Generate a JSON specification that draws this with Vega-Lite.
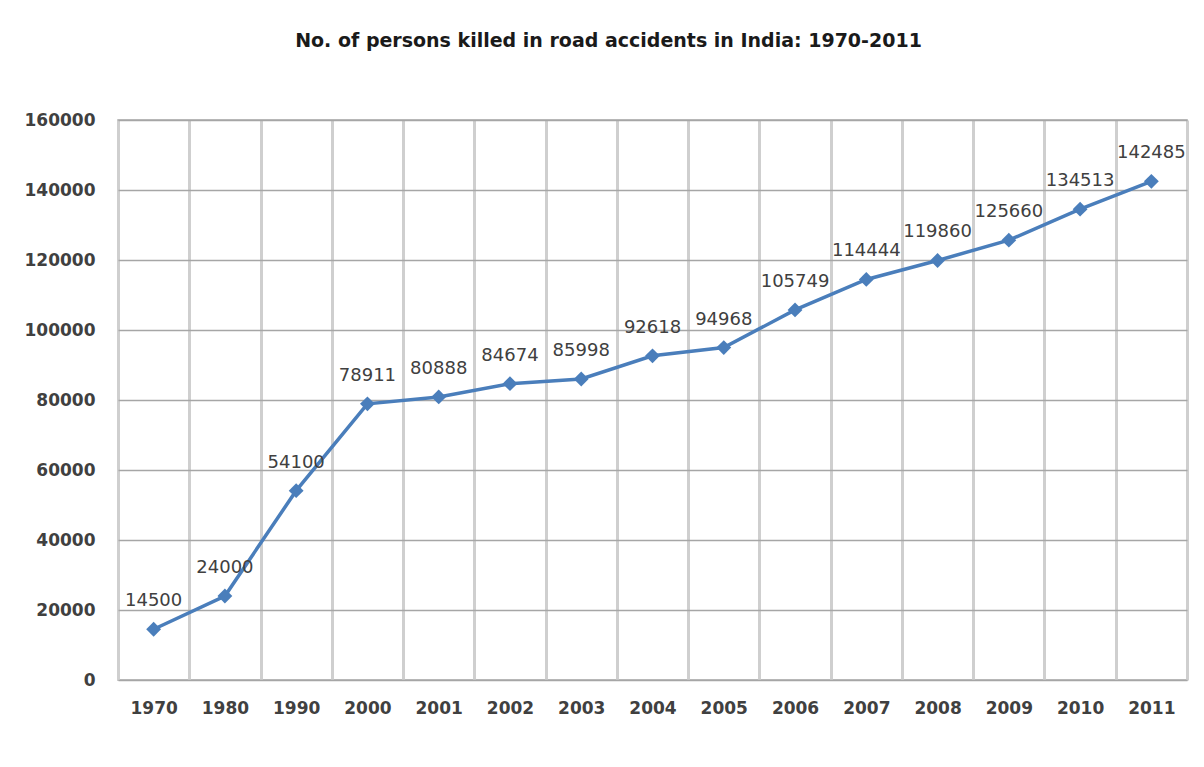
{
  "$schema": "https://vega.github.io/schema/vega-lite/v6.json",
  "width": 1069,
  "height": 560,
  "autosize": {"type": "none"},
  "padding": {"left": 118, "top": 120, "right": 17, "bottom": 87},
  "background": "white",
  "title": {
    "text": "No. of persons killed in road accidents in India: 1970-2011",
    "font": "DejaVu Sans",
    "fontSize": 19,
    "fontWeight": "bold",
    "color": "#1a1a1a",
    "anchor": "middle",
    "offset": 60,
    "dx": -44
  },
  "config": {
    "view": {"stroke": "#a6a6a6", "strokeWidth": 1.5},
    "axis": {
      "labelFont": "DejaVu Sans",
      "labelFontSize": 17,
      "labelFontWeight": "bold",
      "labelColor": "#404040",
      "ticks": false,
      "domain": false,
      "title": null
    }
  },
  "data": {
    "values": [
      {"year": "1970", "killed": 14500},
      {"year": "1980", "killed": 24000},
      {"year": "1990", "killed": 54100},
      {"year": "2000", "killed": 78911},
      {"year": "2001", "killed": 80888},
      {"year": "2002", "killed": 84674},
      {"year": "2003", "killed": 85998},
      {"year": "2004", "killed": 92618},
      {"year": "2005", "killed": 94968},
      {"year": "2006", "killed": 105749},
      {"year": "2007", "killed": 114444},
      {"year": "2008", "killed": 119860},
      {"year": "2009", "killed": 125660},
      {"year": "2010", "killed": 134513},
      {"year": "2011", "killed": 142485}
    ]
  },
  "encoding": {
    "x": {
      "field": "year",
      "type": "ordinal",
      "sort": null,
      "scale": {"type": "band", "paddingInner": 0, "paddingOuter": 0},
      "axis": {
        "labelAngle": 0,
        "labelPadding": 20,
        "grid": true,
        "tickBand": "extent",
        "gridColor": "#cfcfcf",
        "gridWidth": 3
      }
    },
    "y": {
      "field": "killed",
      "type": "quantitative",
      "scale": {"domain": [0, 160000]},
      "axis": {
        "values": [0, 20000, 40000, 60000, 80000, 100000, 120000, 140000, 160000],
        "format": "d",
        "labelPadding": 23,
        "grid": true,
        "gridColor": "#a6a6a6",
        "gridWidth": 1.5
      }
    }
  },
  "layer": [
    {
      "mark": {"type": "line", "color": "#4a7ebb", "strokeWidth": 3.5}
    },
    {
      "mark": {"type": "point", "shape": "diamond", "filled": true, "size": 220, "color": "#4a7ebb", "opacity": 1}
    },
    {
      "mark": {
        "type": "text",
        "dy": -28,
        "baseline": "middle",
        "align": "center",
        "font": "DejaVu Sans",
        "fontSize": 18,
        "color": "#404040"
      },
      "encoding": {
        "text": {"field": "killed", "type": "quantitative", "format": "d"}
      }
    }
  ]
}
